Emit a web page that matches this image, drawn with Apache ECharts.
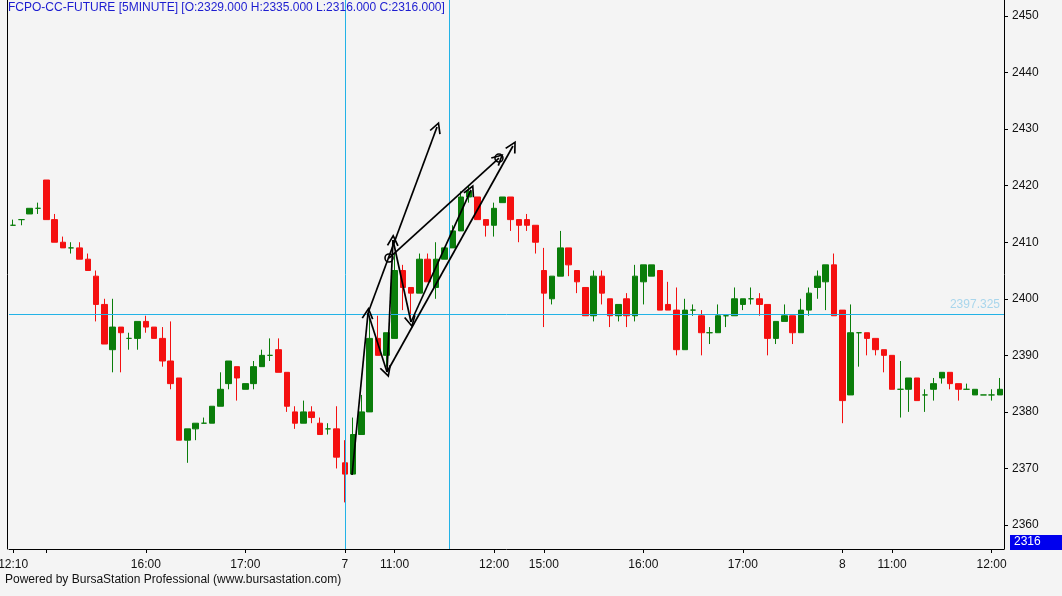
<!DOCTYPE html>
<html><head><meta charset="utf-8">
<script src="https://cdn.jsdelivr.net/npm/echarts@6/dist/echarts.min.js"></script>
<style>html,body{margin:0;padding:0;background:#f4f4f4;}#c{width:1062px;height:596px;}</style>
</head><body><div id="c"></div>
<script>
// ---- data ----
const titleText = 'FCPO-CC-FUTURE [5MINUTE] [O:2329.000 H:2335.000 L:2316.000 C:2316.000]';
const footerText = 'Powered by BursaStation Professional (www.bursastation.com)';
const opens  = [2413,2414,2415,2416,2421,2414,2410,2409,2409,2407,2404,2399,2391,2395,2393,2393,2396,2395,2393,2389,
                2386,2375,2377,2378,2378,2381,2385,2388,2384,2385,2388,2390,2391,2387,2380,2378,2380,2378,2377,2377,
                2371,2369,2376,2380,2393,2390,2393,2405,2402,2401,2407,2402,2407,2409,2412,2418,2418,2414,2413,2417,
                2418,2414,2414,2413,2405,2400,2404,2409,2405,2402,2397,2404,2400,2397,2400,2397,2403,2404,2405,2399,
                2398,2391,2398,2397,2394,2394,2397,2397,2399,2400,2400,2399,2393,2396,2397,2394,2398,2402,2403,2406,
                2398,2383,2394,2394,2393,2391,2390,2384,2384,2386,2383,2384,2386,2387,2385,2384,2383,2383,2383,2383];
const closes = [2413,2414,2416,2416,2414,2410,2409,2409,2407,2405,2399,2392,2395,2394,2393,2396,2395,2393,2389,2385,
                2375,2377,2378,2378,2381,2384,2389,2386,2385,2388,2390,2390,2387,2381,2378,2380,2379,2376,2377,2372,
                2369,2376,2380,2393,2390,2394,2405,2402,2401,2407,2403,2407,2409,2412,2418,2419,2414,2413,2416,2418,
                2414,2413,2413,2410,2401,2404,2409,2406,2403,2397,2404,2401,2397,2399,2397,2404,2406,2406,2398,2398,
                2391,2398,2398,2394,2394,2397,2397,2400,2400,2400,2399,2393,2396,2397,2394,2398,2401,2404,2406,2397,
                2382,2394,2394,2393,2391,2390,2384,2384,2386,2382,2383,2385,2387,2385,2384,2384,2384,2383,2383,2384];
const lows   = [2413,2413,2415,2415,2414,2410,2409,2408,2407,2405,2396,2392,2387,2387,2391,2391,2394,2393,2388,2384,
                2375,2371,2375,2378,2378,2381,2384,2382,2384,2384,2388,2389,2387,2380,2377,2378,2378,2376,2376,2370,
                2364,2369,2376,2380,2390,2388,2393,2398,2396,2401,2403,2400,2407,2409,2412,2417,2414,2411,2411,2417,
                2412,2410,2412,2408,2395,2399,2404,2404,2401,2397,2396,2399,2395,2396,2395,2396,2399,2404,2398,2398,
                2390,2391,2397,2390,2392,2394,2395,2397,2398,2399,2397,2390,2392,2396,2392,2394,2397,2400,2398,2397,
                2378,2383,2388,2390,2390,2387,2384,2379,2380,2382,2380,2382,2385,2384,2382,2384,2383,2383,2382,2383];
const highs  = [2414,2414,2416,2417,2421,2415,2411,2410,2410,2408,2405,2400,2400,2395,2394,2396,2397,2395,2395,2396,
                2386,2377,2378,2379,2381,2387,2389,2388,2385,2389,2391,2393,2393,2387,2381,2382,2381,2379,2378,2381,
                2375,2379,2383,2397,2397,2394,2408,2406,2402,2408,2408,2410,2409,2413,2419,2420,2418,2414,2417,2418,
                2418,2414,2415,2413,2409,2404,2412,2409,2405,2402,2405,2405,2400,2399,2401,2406,2406,2406,2405,2403,
                2402,2400,2399,2398,2395,2399,2397,2402,2400,2402,2401,2399,2396,2399,2397,2400,2402,2405,2406,2408,
                2398,2399,2394,2394,2393,2391,2390,2389,2386,2386,2384,2386,2387,2387,2385,2385,2384,2383,2384,2386];
const tickIndex = [0, 4, 16, 28, 40, 46, 58, 64, 76, 88, 100, 106, 118];
const tickText  = ['12:10', '', '16:00', '17:00', '7', '11:00', '12:00', '15:00', '16:00', '17:00', '8', '11:00', '12:00'];
const yTicks = [2360, 2370, 2380, 2390, 2400, 2410, 2420, 2430, 2440, 2450];
const yMin = 2355.76, yMax = 2452.83;
const crossPrice = 2397.325;
const crossBars = [40.06, 52.62];
const lastPrice = 2316;
// drawn trend arrows: [bar position, price] start -> end
const arrowLines = [
  [[40.87, 2368.85], [42.80, 2397.49]],
  [[42.80, 2397.49], [51.12, 2430.37]],
  [[42.80, 2397.49], [45.09, 2387.06]],
  [[45.09, 2387.06], [45.81, 2410.40]],
  [[45.81, 2410.40], [47.98, 2395.90]],
  [[47.98, 2395.90], [55.22, 2419.24]],
  [[45.09, 2387.06], [60.28, 2427.02]],
  [[45.33, 2407.21], [58.59, 2424.89]]
];
const arrowCircles = [[45.33, 2407.21], [58.59, 2424.89]];

// ---- chart ----
const categories = opens.map((_, i) => String(i));
const ohlc = opens.map((o, i) => [o, closes[i], lows[i], highs[i]]);
const FONT = '"Liberation Sans", Arial, sans-serif';
const UP = '#0a7d0a', DOWN = '#f41010';
const CROSS = '#22b2e6';
const chart = echarts.init(document.getElementById('c'), null, {renderer: 'canvas'});
const arrowPath = 'path://M0,11 L5,0 L10,11 L8.7,11.7 L5,3.4 L1.3,11.7 Z';

chart.setOption({
  backgroundColor: '#f4f4f4',
  animation: false,
  grid: {left: 9, right: 58, top: 0, bottom: 47, containLabel: false, outerBoundsMode: 'none'},
  xAxis: [{
    type: 'category', data: categories, boundaryGap: true,
    axisLine: {show: true, onZero: false, lineStyle: {color: '#000', width: 1}},
    axisTick: {show: true, alignWithLabel: true, length: 4, lineStyle: {color: '#000'},
               interval: (i) => tickIndex.includes(i)},
    axisLabel: {show: true, interval: (i) => tickIndex.includes(i), margin: 10,
                color: '#111', fontSize: 12, fontFamily: FONT,
                formatter: (v) => { const k = tickIndex.indexOf(+v); return k >= 0 ? tickText[k] : ''; }},
    splitLine: {show: false}
  }, {
    type: 'value', min: -0.5, max: 119.5, show: false,
    axisLine: {show: false, onZero: false}, axisTick: {show: false}, axisLabel: {show: false}, splitLine: {show: false}
  }],
  yAxis: [{
    type: 'value', position: 'right', min: yMin, max: yMax,
    axisLine: {show: true, onZero: false, lineStyle: {color: '#000', width: 1}},
    axisTick: {show: true, inside: false, length: 4, customValues: yTicks, lineStyle: {color: '#000'}},
    axisLabel: {show: true, customValues: yTicks, margin: 8, color: '#111', fontSize: 12, fontFamily: FONT,
                formatter: (v) => String(Math.round(v))},
    splitLine: {show: false}
  }, {
    type: 'value', position: 'left', min: yMin, max: yMax, offset: 2,
    axisLine: {show: true, onZero: false, lineStyle: {color: '#000', width: 1}},
    axisTick: {show: false}, axisLabel: {show: false}, splitLine: {show: false}
  }],
  series: [{
    type: 'candlestick', data: ohlc, barWidth: 6,
    itemStyle: {color: UP, color0: DOWN, borderColor: UP, borderColor0: DOWN, borderColorDoji: UP, borderWidth: 1},
    z: 2
  }, {
    type: 'scatter', xAxisIndex: 1, yAxisIndex: 0, data: [], silent: true,
    markLine: {
      silent: true, symbol: ['none', 'none'], animation: false,
      lineStyle: {color: CROSS, width: 1, type: 'solid'},
      label: {show: false},
      data: [
        {yAxis: crossPrice, label: {show: true, position: 'insideEndTop', formatter: crossPrice.toFixed(3),
          color: '#a9d6ec', fontSize: 12, fontFamily: FONT, distance: [4, 3]}},
        ...crossBars.map(b => ({xAxis: b}))
      ]
    },
    z: 1
  }, {
    type: 'lines', coordinateSystem: 'cartesian2d', xAxisIndex: 1, yAxisIndex: 0,
    symbol: ['none', arrowPath], symbolSize: [10, 12],
    lineStyle: {color: '#000', width: 1.7, opacity: 1, curveness: 0},
    itemStyle: {color: '#000'},
    data: arrowLines.map(seg => ({coords: seg})),
    z: 5, silent: true
  }, {
    type: 'scatter', xAxisIndex: 1, yAxisIndex: 0, data: arrowCircles,
    symbol: 'circle', symbolSize: 8,
    itemStyle: {color: 'rgba(0,0,0,0)', borderColor: '#000', borderWidth: 1.6, opacity: 1},
    z: 6, silent: true
  }],
  graphic: [
    {type: 'text', left: 8, top: 2, z: 10,
     style: {text: titleText, fill: '#1c1cd0', font: '12px ' + FONT}},
    {type: 'text', left: 5, top: 574, z: 10,
     style: {text: footerText, fill: '#111', font: '12px ' + FONT}},
    {type: 'group', left: 1010, top: 535, z: 10, children: [
      {type: 'rect', shape: {x: 0, y: 0, width: 52, height: 15}, style: {fill: '#0000ee'}},
      {type: 'text', x: 4, y: 1, style: {text: String(lastPrice), fill: '#fff', font: '12px ' + FONT}}
    ]}
  ]
});
</script></body></html>
